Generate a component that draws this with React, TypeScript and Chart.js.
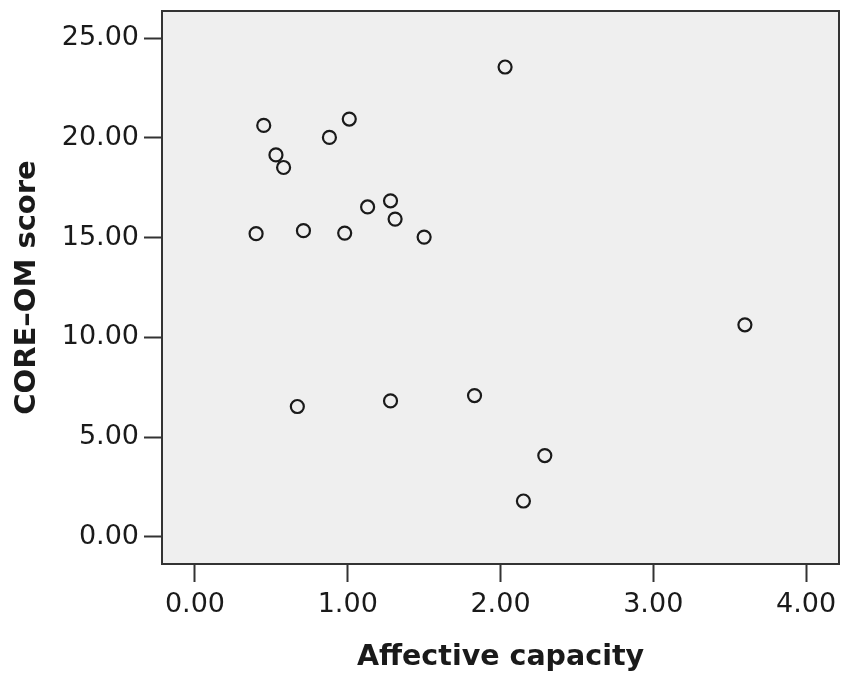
import React, { useEffect, useRef } from "react";
import { Chart, registerables } from "chart.js";

Chart.register(...registerables);

const affectiveCapacity = [2.03, 0.45, 1.01, 0.88, 0.53, 0.58, 1.28, 1.13, 1.31, 0.40, 0.71, 0.98, 1.50, 3.60, 0.67, 1.28, 1.83, 2.29, 2.15];
const coreOmScore = [23.56, 20.63, 20.95, 20.03, 19.15, 18.52, 16.85, 16.54, 15.93, 15.20, 15.35, 15.23, 15.03, 10.63, 6.53, 6.81, 7.08, 4.07, 1.79];
const xTickValues = [0, 1, 2, 3, 4];
const yTickValues = [0, 5, 10, 15, 20, 25];
const xTitle = "Affective capacity";
const yTitle = "CORE\u2013OM score";

const frameColor = "#333333";
const plotBg = "#efefef";

function zeroPadding(scale: any) {
  scale.paddingTop = 0;
  scale.paddingBottom = 0;
  scale.paddingLeft = 0;
  scale.paddingRight = 0;
}

export default function App() {
  const ref = useRef<HTMLCanvasElement | null>(null);

  useEffect(() => {
    if (!ref.current) return;
    const points = affectiveCapacity.map((x, i) => ({ x, y: coreOmScore[i] }));

    const framePlugin = {
      id: "frame",
      beforeDatasetsDraw(chart: any) {
        const { ctx, chartArea } = chart;
        ctx.save();
        ctx.fillStyle = plotBg;
        ctx.fillRect(chartArea.left, chartArea.top, chartArea.right - chartArea.left, chartArea.bottom - chartArea.top);
        ctx.restore();
      },
      afterDatasetsDraw(chart: any) {
        const { ctx, chartArea } = chart;
        ctx.save();
        ctx.strokeStyle = frameColor;
        ctx.lineWidth = 2;
        ctx.strokeRect(chartArea.left, chartArea.top, chartArea.right - chartArea.left, chartArea.bottom - chartArea.top);
        ctx.restore();
      },
    };

    const chart = new Chart(ref.current, {
      type: "scatter",
      data: {
        datasets: [
          {
            data: points,
            pointStyle: "circle",
            pointRadius: 6.5,
            pointHoverRadius: 6.5,
            pointBorderWidth: 2.2,
            pointBackgroundColor: "rgba(0,0,0,0)",
            pointBorderColor: "#1a1a1a",
            showLine: false,
          },
        ],
      },
      options: {
        animation: false,
        responsive: false,
        maintainAspectRatio: false,
        layout: { autoPadding: false, padding: { left: 0, top: 11, right: 3, bottom: 0 } },
        plugins: {
          legend: { display: false },
          tooltip: { enabled: false },
        },
        scales: {
          x: {
            type: "linear",
            min: -0.216,
            max: 4.216,
            afterBuildTicks: (scale: any) => {
              scale.ticks = xTickValues.map((v) => ({ value: v }));
            },
            afterFit: (scale: any) => {
              scale.height = 115;
              zeroPadding(scale);
            },
            grid: {
              drawOnChartArea: false,
              drawTicks: true,
              tickLength: 18,
              tickWidth: 2,
              tickColor: frameColor,
            },
            border: { display: false },
            ticks: {
              padding: 7,
              color: "#1a1a1a",
              font: { family: "DejaVu Sans", size: 27 },
              callback: (v: any) => Number(v).toFixed(2),
            },
            title: {
              display: true,
              text: xTitle,
              color: "#1a1a1a",
              font: { family: "DejaVu Sans", size: 28.5, weight: "bold" },
              padding: { top: 4, bottom: 4 },
            },
          },
          y: {
            type: "linear",
            min: -1.37,
            max: 26.37,
            afterBuildTicks: (scale: any) => {
              scale.ticks = yTickValues.map((v) => ({ value: v }));
            },
            afterFit: (scale: any) => {
              scale.width = 162;
              zeroPadding(scale);
            },
            grid: {
              drawOnChartArea: false,
              drawTicks: true,
              tickLength: 18,
              tickWidth: 2,
              tickColor: frameColor,
            },
            border: { display: false },
            ticks: {
              padding: 5,
              color: "#1a1a1a",
              font: { family: "DejaVu Sans", size: 27 },
              callback: (v: any) => Number(v).toFixed(2),
            },
            title: {
              display: true,
              text: yTitle,
              color: "#1a1a1a",
              font: { family: "DejaVu Sans", size: 29, weight: "bold" },
              padding: { top: 10, bottom: 4 },
            },
          },
        },
      },
      plugins: [framePlugin],
    });

    return () => chart.destroy();
  }, []);

  return (
    <div style={{ position: "fixed", left: 0, top: 0, width: 842, height: 679, background: "#ffffff" }}>
      <canvas ref={ref} width={842} height={679} style={{ width: 842, height: 679, display: "block" }} />
    </div>
  );
}
